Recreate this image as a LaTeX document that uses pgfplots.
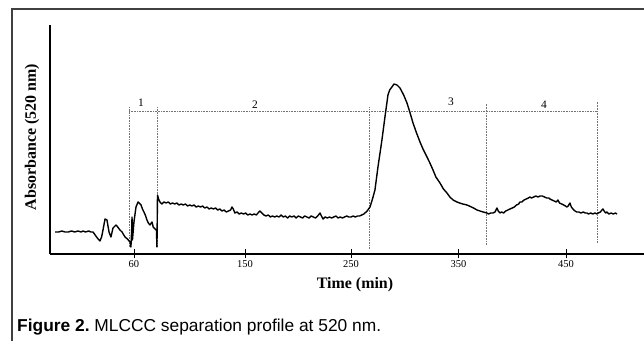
\documentclass[border=0pt]{standalone}
\usepackage{pgfplots}
\pgfplotsset{compat=1.18}
\usepackage{pgfplotstable}
\usepackage{fontspec}
\setmainfont{Liberation Serif}
\newfontfamily\capfont{Liberation Sans}
\usepackage{graphicx}

\pgfplotstableread{
t y
-25.3 22
-22 22
-19 23
-16 22
-13 22
-10 23
-7 22
-4 23
-1 22
0.7 23
3 22
6 23
8 22
10 22
12 19
14 16
16.5 13
18 17
19.3 24
21.2 35
23 34
24.9 22
26.7 17
28.6 26
31.4 29
33 27
35.1 24
37 22
39.8 17
42 15
44.4 12
45.3 7
46.0 25
46.3 37
46.7 14
48.1 32
50 47
51.9 52
53 51
54.7 49
56 45
57.4 42
59 38
60.2 34
61.5 31
63 29
64.9 32
66 27
67.7 25
69.0 24
69.5 7
70.0 59
71 55
72.3 52
74 50
76 52
78 51
80 52
82 50
84 51
86 50
88 51
90 49
92 50
94 49
96 50
98 48
100 49
102 48
104 49
106 47
108 48
110 47
112 48
114 46
116 47
118 45
120 46
122 45
124 46
126 44
128 45
130 43
132 44
134 42
136 43
138 44
139.3 47
140.5 45
142 41
144 42
146 40
148 41
150 40
152 41
154 39
156 40
158 39
160 40
162 39
163.5 41
165.3 43
167 41
169 39
171 38
173 39
175 37
177 38
179 37
181 38
183 37
185 39
187 37
189 38
191 36
193 38
195 37
197 38
199 36
201 38
203 37
205 36
207 38
209 37
211 36
213 38
215 37
217 36
219 38
221.2 41
222.5 38
224 35
226 37
228 36
230 37
232 36
234 37
236 38
238 36
240 37
242 36
244 37
246 38
248 37
250 37
252 38
254 37
256 38
258 38
260 39
262 40
263 41
265 43
267.7 47
270 55
272.3 64
275.1 87
278.8 114
281.6 137
284.4 159
286 164
288.1 167
290 170
292.8 169
295.6 166
299 159
302.1 151
305 141
307.7 131
311 121
314.2 112
317 105
320.7 97
323 92
326.3 84
329 77
332.8 71
336 65
339.3 61
342 57
345 54
348.6 52
351 51
354 50
357.9 49
360 48
362 47
364 46
367.2 44
370 43
373 42
376.5 41
378 40
380 41
382.1 41
384 42
385.8 46
387 43
388.6 41
390 42
392 41
394 43
396 44
397.9 45
400 46
402 47
404 49
406 50
407.2 52
409 52
411 54
413 55
415 56
416.5 57
418 56
420 57
422 58
424 57
425.8 58
428 58
430 57
432 56
434 56
435.1 55
437 54
439 53
441 52
442.5 54
444 51
446 50
448 49
450.9 47
452 48
453.7 51
455 47
456.5 45
458.4 43
460 42
462 42
464 41
466 42
468 41
469.5 41
471 40
473 41
475 40
477 41
478.8 40
480 41
482 42
483.5 44
484.4 45
485.5 43
487 41
488.1 42
490 40
492 41
494 40
496 41
497.4 40
}\profile

\begin{document}
\begin{tikzpicture}
\useasboundingbox (0,0) rectangle (644bp,341bp);
% outer frame
\draw[line width=1.2bp, color=black!75] (12bp,0bp) -- (12bp,332bp) -- (644bp,332bp);
\begin{axis}[
  at={(50bp,87bp)}, anchor=south west,
  scale only axis, width=594bp, height=229bp,
  xmin=-30, xmax=522.6, ymin=0, ymax=229,
  axis x line=bottom, axis y line=left,
  axis line style={-, line width=1.1bp, black},
  ytick=\empty,
  xtick={48.1,151.4,250,350,450},
  xticklabels={60,150,250,350,450},
  major tick length=9bp, tick align=center,
  tick style={line width=0.9bp, black},
  xticklabel style={font=\fontsize{10.5}{11}\selectfont, inner sep=2pt},
  /pgf/number format/assume math mode=true,
  clip=false,
]
% dotted fraction markers
\addplot[black!55, line width=0.7bp, dash pattern=on 0.7bp off 0.9bp] coordinates {(43.5,143) (478.8,143)};
\addplot[black!55, line width=0.7bp, dash pattern=on 0.7bp off 0.9bp] coordinates {(43.5,7) (43.5,147)};
\addplot[black!55, line width=0.7bp, dash pattern=on 0.7bp off 0.9bp] coordinates {(69.5,7) (69.5,147)};
\addplot[black!55, line width=0.7bp, dash pattern=on 0.7bp off 0.9bp] coordinates {(266.7,5) (266.7,147)};
\addplot[black!55, line width=0.7bp, dash pattern=on 0.7bp off 0.9bp] coordinates {(375.6,9) (375.6,150)};
\addplot[black!55, line width=0.7bp, dash pattern=on 0.7bp off 0.9bp] coordinates {(478.8,11) (478.8,152)};
% profile
\addplot[black, line width=1.4bp, line join=round] table[x=t, y=y] {\profile};
\node[font=\fontsize{11.5}{12}\selectfont] at (axis cs:54.7,151) {1};
\node[font=\fontsize{11.5}{12}\selectfont] at (axis cs:160.7,149) {2};
\node[font=\fontsize{11.5}{12}\selectfont] at (axis cs:343,152) {3};
\node[font=\fontsize{11.5}{12}\selectfont] at (axis cs:429.5,149) {4};
\end{axis}
\node[font=\bfseries\fontsize{16}{17}\selectfont] at (355bp,56bp) {Time (min)};
\node[rotate=90, font=\bfseries\fontsize{16}{17}\selectfont] at (32bp,204bp) {Absorbance (520 nm)};
\node[anchor=base west, inner sep=0pt] at (17bp,9bp) {\resizebox{364bp}{12.5bp}{\capfont\bfseries Figure 2.\mdseries\ MLCCC separation profile at 520 nm.}};
\end{tikzpicture}
\end{document}
